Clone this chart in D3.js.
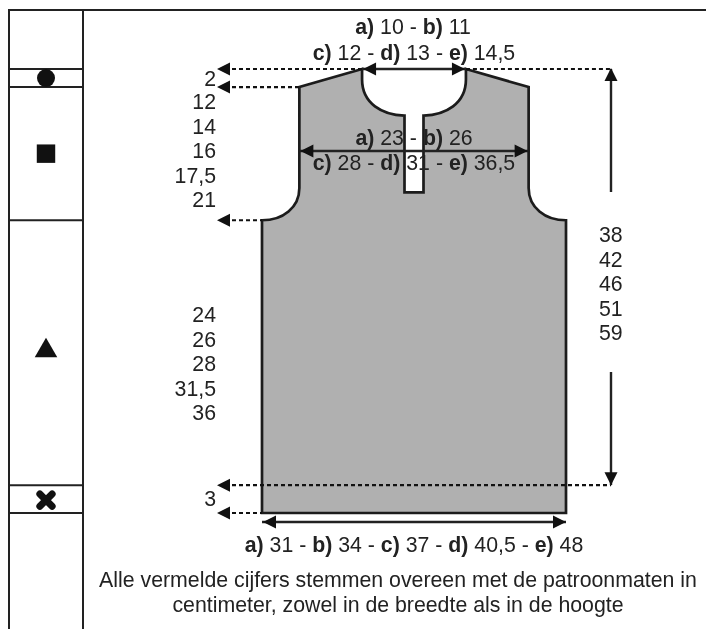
<!DOCTYPE html>
<html lang="en">
<head>
<meta charset="UTF-8">
<title>Patroon</title>
<style>
  html, body { margin: 0; padding: 0; background: #fff; }
  svg { display: block; filter: blur(0.35px); }
  text { font-family: "Liberation Sans", Arial, sans-serif; font-size: 21.3px; fill: #222; }
</style>
</head>
<body>
<svg id="svg" width="706" height="629"></svg>
<script src="https://d3js.org/d3.v7.min.js"></script>
<script>
// size labels
const neckSizes = [['a', '10'], ['b', '11'], ['c', '12'], ['d', '13'], ['e', '14,5']]
const chestSizes = [['a', '23'], ['b', '26'], ['c', '28'], ['d', '31'], ['e', '36,5']]
const hemSizes = [['a', '31'], ['b', '34'], ['c', '37'], ['d', '40,5'], ['e', '48']]
const shoulderDrop = ['2']
const armholeHeights = ['12', '14', '16', '17,5', '21']
const bodyHeights = ['24', '26', '28', '31,5', '36']
const ribHeight = ['3']
const totalHeights = ['38', '42', '46', '51', '59']
const footnote = [
  'Alle vermelde cijfers stemmen overeen met de patroonmaten in',
  'centimeter, zowel in de breedte als in de hoogte'
]

// height marks on the drawing (cm down from the neck, largest size, schematic)
const levels = { top: 0, shoulder: 2.4, armhole: 20.1, rib: 55.3, hem: 59 }
const widths = { neck: 8.2, placket: 1.5, shoulder: 18.1, hem: 24 }

const svg = d3.select('#svg')
const x = d3.scaleLinear().domain([-24, 24]).range([262, 566])
const y = d3.scaleLinear().domain([0, 59]).range([69, 513])
const colX = 46

// left column and frame
const frame = svg.append('g').attr('stroke', '#222').attr('stroke-width', 2).attr('fill', 'none')
frame.append('path').attr('d', 'M706,10H9V629M83,10V629')
Object.keys(levels).forEach(k => {
  frame.append('line').attr('x1', 9).attr('x2', 83).attr('y1', y(levels[k])).attr('y2', y(levels[k]))
})

// one symbol per band of the left column
const mid = (a, b) => (y(levels[a]) + y(levels[b])) / 2
svg.append('path').attr('d', d3.symbol().type(d3.symbolCircle).size(254)())
  .attr('transform', `translate(${colX},${mid('top', 'shoulder')})`).attr('fill', '#111')
svg.append('path').attr('d', d3.symbol().type(d3.symbolSquare).size(340)())
  .attr('transform', `translate(${colX},${mid('shoulder', 'armhole')})`).attr('fill', '#111')
svg.append('path').attr('d', d3.symbol().type(d3.symbolTriangle).size(220)())
  .attr('transform', `translate(${colX},${mid('armhole', 'rib') - 2})`).attr('fill', '#111')
svg.append('path').attr('d', d3.symbol().type(d3.symbolX).size(100)())
  .attr('transform', `translate(${colX},${mid('rib', 'hem') + 1})`)
  .attr('fill', 'none').attr('stroke', '#111').attr('stroke-width', 7).attr('stroke-linecap', 'round')

// garment outline
const L = c => x(-c), R = c => x(c)
const outline = [
  `M${L(widths.neck)},${y(levels.top)}`,
  `L${L(widths.shoulder)},${y(levels.shoulder)}`,
  `L${L(widths.shoulder)},${y(15.8)}`,
  `C${L(widths.shoulder)},${y(18.4)} ${L(20.7)},${y(levels.armhole)} ${L(widths.hem)},${y(levels.armhole)}`,
  `L${L(widths.hem)},${y(levels.hem)}`,
  `L${R(widths.hem)},${y(levels.hem)}`,
  `L${R(widths.hem)},${y(levels.armhole)}`,
  `C${R(20.7)},${y(levels.armhole)} ${R(widths.shoulder)},${y(18.4)} ${R(widths.shoulder)},${y(15.8)}`,
  `L${R(widths.shoulder)},${y(levels.shoulder)}`,
  `L${R(widths.neck)},${y(levels.top)}`,
  `L${R(widths.neck)},${y(1.4)}`,
  `C${R(widths.neck)},${y(4.6)} ${R(5)},${y(6.1)} ${R(widths.placket)},${y(6.2)}`,
  `L${R(widths.placket)},${y(16.4)}`,
  `L${L(widths.placket)},${y(16.4)}`,
  `L${L(widths.placket)},${y(6.2)}`,
  `C${L(5)},${y(6.1)} ${L(widths.neck)},${y(4.6)} ${L(widths.neck)},${y(1.4)}`,
  'Z'
].join('')

svg.append('path')
  .attr('d', outline)
  .attr('fill', '#b0b0b0')
  .attr('stroke', '#1c1c1c')
  .attr('stroke-width', 2.7)

// dotted leaders
const leftEnd = 225, rightEnd = 611
const leaders = [
  [leftEnd, x(-widths.neck), levels.top],
  [leftEnd, x(-widths.shoulder), levels.shoulder],
  [leftEnd, x(-widths.hem), levels.armhole],
  [leftEnd, rightEnd, levels.rib],
  [leftEnd, x(-widths.hem), levels.hem],
  [x(widths.neck), rightEnd, levels.top]
]
svg.selectAll('.leader').data(leaders).join('line')
  .attr('class', 'leader')
  .attr('x1', d => d[0]).attr('x2', d => d[1])
  .attr('y1', d => y(d[2])).attr('y2', d => y(d[2]))
  .attr('stroke', '#111').attr('stroke-width', 2.2).attr('stroke-dasharray', '4 3')

// arrow heads
const head = (px, py, dir) => {
  const shape = { l: '0,0 13,-6.5 13,6.5', r: '0,0 -13,-6.5 -13,6.5', u: '0,0 -6.5,13 6.5,13', d: '0,0 -6.5,-13 6.5,-13' }
  svg.append('polygon').attr('points', shape[dir])
    .attr('transform', `translate(${px},${py})`).attr('fill', '#111')
}
const solid = (x1, y1, x2, y2) => svg.append('line')
  .attr('x1', x1).attr('y1', y1).attr('x2', x2).attr('y2', y2)
  .attr('stroke', '#222').attr('stroke-width', 2.4)

leaders.slice(0, 5).forEach(d => head(217, y(d[2]), 'l'))

const chestY = 151, hemArrowY = 522
solid(L(widths.neck), y(levels.top), R(widths.neck), y(levels.top))
head(L(widths.neck) + 1, y(levels.top), 'l'); head(R(widths.neck) - 1, y(levels.top), 'r')
solid(L(widths.shoulder), chestY, R(widths.shoulder), chestY)
head(L(widths.shoulder) + 1, chestY, 'l'); head(R(widths.shoulder) - 1, chestY, 'r')
solid(L(widths.hem), hemArrowY, R(widths.hem), hemArrowY)
head(L(widths.hem) + 1, hemArrowY, 'l'); head(R(widths.hem), hemArrowY, 'r')
solid(rightEnd, y(levels.top), rightEnd, 192)
head(rightEnd, y(levels.top) - 1, 'u')
solid(rightEnd, 372, rightEnd, y(levels.rib))
head(rightEnd, y(levels.rib), 'd')

// labels: bold size letter followed by the value
const sizeLine = (items, cx, baseline) => {
  const t = svg.append('text').attr('x', cx).attr('y', baseline).attr('text-anchor', 'middle')
  items.forEach((d, i) => {
    t.append('tspan').attr('font-weight', 'bold').text(`${d[0]})`)
    t.append('tspan').text(` ${d[1]}${i < items.length - 1 ? ' - ' : ''}`)
  })
}
sizeLine(neckSizes.slice(0, 2), 413, 34)
sizeLine(neckSizes.slice(2), 414, 60)
sizeLine(chestSizes.slice(0, 2), 414, 145)
sizeLine(chestSizes.slice(2), 414, 170)
sizeLine(hemSizes, 414, 552)

const column = (items, px, base, anchor) => {
  svg.selectAll(null).data(items).join('text')
    .attr('x', px).attr('y', (d, i) => base + i * 24.6)
    .attr('text-anchor', anchor).text(d => d)
}
column(shoulderDrop, 216, 86, 'end')
column(armholeHeights, 216, 109, 'end')
column(bodyHeights, 216, 322, 'end')
column(ribHeight, 216, 506, 'end')
column(totalHeights, 599, 242, 'start')

svg.selectAll('.note').data(footnote).join('text')
  .attr('class', 'note')
  .attr('x', 398)
  .attr('y', (d, i) => 587 + i * 25)
  .attr('text-anchor', 'middle')
  .text(d => d)
</script>
</body>
</html>
